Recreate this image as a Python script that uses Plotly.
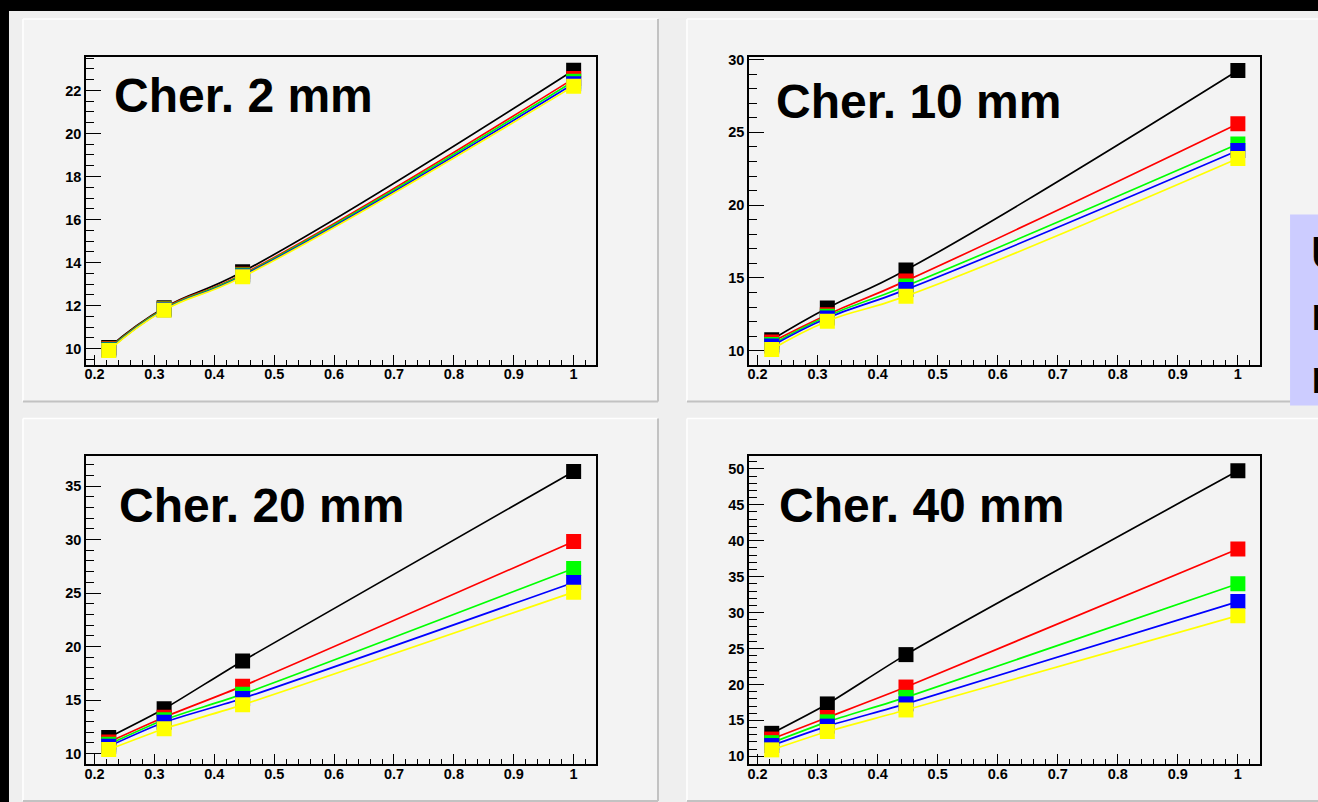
import plotly.graph_objects as go

W, H = 1318, 802

# x = 1/sqrt(E)
x_vals = [0.2236, 0.3162, 0.4472, 1.0]
series_names = ["black", "red", "green", "blue", "yellow"]
series_colors = ["#000000", "#ff0000", "#00ff00", "#0000ff", "#ffff00"]

panel_titles = ["Cher. 2 mm", "Cher. 10 mm", "Cher. 20 mm", "Cher. 40 mm"]

cher2_black = [10.05, 11.90, 13.57, 22.94]
cher2_red = [10.00, 11.87, 13.46, 22.55]
cher2_green = [9.97, 11.84, 13.42, 22.43]
cher2_blue = [9.94, 11.81, 13.38, 22.31]
cher2_yellow = [9.91, 11.78, 13.34, 22.20]

cher10_black = [10.75, 12.93, 15.55, 29.25]
cher10_red = [10.60, 12.48, 14.80, 25.60]
cher10_green = [10.43, 12.37, 14.45, 24.20]
cher10_blue = [10.32, 12.25, 14.20, 23.75]
cher10_yellow = [10.09, 12.03, 13.75, 23.20]

cher20_black = [11.50, 14.18, 18.66, 36.37]
cher20_red = [11.08, 13.40, 16.30, 29.83]
cher20_green = [10.86, 13.16, 15.55, 27.30]
cher20_blue = [10.68, 12.93, 15.15, 25.99]
cher20_yellow = [10.37, 12.32, 14.55, 25.09]

cher40_black = [13.20, 17.29, 24.15, 49.72]
cher40_red = [12.40, 15.40, 19.64, 38.84]
cher40_green = [11.90, 14.80, 18.20, 34.00]
cher40_blue = [11.50, 14.20, 17.30, 31.53]
cher40_yellow = [10.90, 13.45, 16.45, 29.57]

panel_data = [
    [cher2_black, cher2_red, cher2_green, cher2_blue, cher2_yellow],
    [cher10_black, cher10_red, cher10_green, cher10_blue, cher10_yellow],
    [cher20_black, cher20_red, cher20_green, cher20_blue, cher20_yellow],
    [cher40_black, cher40_red, cher40_green, cher40_blue, cher40_yellow],
]

y_ranges = [[9.25, 23.57], [9.04, 30.2], [9.0, 37.8], [8.9, 51.76]]
y_dticks = [2, 5, 5, 5]
y_minor = [0.5, 1, 1, 1]
x_range = [0.186, 1.037]

side_text = ["U", "n", "m"]


def px(x):
    return x / W


def py(y):
    return 1 - y / H


# frame pixel boxes (x0, x1, ytop, ybottom)
frames = [(84.3, 594.7, 52, 362), (748.3, 1260, 52, 362),
          (84.3, 594.7, 454, 764), (748.3, 1260, 454, 764)]
# panel boxes
panels = [(21, 657, 14, 399), (686, 1330, 14, 399),
          (21, 657, 416, 801), (686, 1330, 416, 801)]
title_pos = [(111.0, 91.5), (774.5, 97.5), (116.5, 503.8), (777.5, 503.7)]
smooth = [1.3, 1.3, 0.6, 0.6]

fig = go.Figure()

shapes = []
# slide background
shapes.append(dict(type="rect", xref="paper", yref="paper", x0=px(7), x1=px(1340),
                   y0=py(6), y1=py(820), fillcolor="#efefef", line=dict(width=0), layer="below"))
for (x0, x1, y0, y1) in panels:
    shapes.append(dict(type="rect", xref="paper", yref="paper", x0=px(x0), x1=px(x1),
                       y0=py(y0), y1=py(y1), fillcolor="#f3f3f3", line=dict(width=0), layer="below"))
    shapes.append(dict(type="line", xref="paper", yref="paper", x0=px(x0), x1=px(x1),
                       y0=py(y0), y1=py(y0), line=dict(color="#ffffff", width=1.5), layer="below"))
    shapes.append(dict(type="line", xref="paper", yref="paper", x0=px(x0), x1=px(x0),
                       y0=py(y0), y1=py(y1), line=dict(color="#ffffff", width=1.5), layer="below"))
    shapes.append(dict(type="line", xref="paper", yref="paper", x0=px(x0), x1=px(x1),
                       y0=py(y1), y1=py(y1), line=dict(color="#c2c2c2", width=2), layer="below"))
    shapes.append(dict(type="line", xref="paper", yref="paper", x0=px(x1), x1=px(x1),
                       y0=py(y0), y1=py(y1), line=dict(color="#c2c2c2", width=2), layer="below"))
# lavender box on right edge
shapes.append(dict(type="rect", xref="paper", yref="paper", x0=px(1290), x1=px(1360),
                   y0=py(210.7), y1=py(403), fillcolor="#ccccff", line=dict(width=0), layer="above"))

annotations = []
for i, (tx, ty) in enumerate(title_pos):
    annotations.append(dict(xref="paper", yref="paper", x=px(tx), y=py(ty), xanchor="left",
                            yanchor="middle", showarrow=False, text=panel_titles[i], borderpad=0,
                            font=dict(family="Liberation Sans", size=48, color="black", weight="bold")))
for t, ty in zip(side_text, [249, 310, 374]):
    annotations.append(dict(xref="paper", yref="paper", x=px(1310), y=py(ty), xanchor="left",
                            yanchor="middle", showarrow=False, text=t, borderpad=0,
                            font=dict(family="Liberation Sans", size=47, color="black", weight="bold")))

layout = dict(width=W, height=H, margin=dict(l=0, r=0, t=0, b=0, pad=0),
              paper_bgcolor="#000000", plot_bgcolor="#f3f3f3", showlegend=False,
              shapes=shapes, annotations=annotations)

for i in range(4):
    sfx = "" if i == 0 else str(i + 1)
    x0, x1, yt, yb = frames[i]
    for name, col, vals in zip(series_names, series_colors, panel_data[i]):
        fig.add_trace(go.Scatter(x=x_vals, y=vals, mode="lines+markers", name=name,
                                 line=dict(color=col, width=1.7, shape="spline", smoothing=smooth[i]),
                                 marker=dict(symbol="square", size=15, color=col, line=dict(width=0)),
                                 xaxis="x" + sfx, yaxis="y" + sfx))
    common = dict(showline=True, linecolor="black", linewidth=1.8, mirror=True,
                  ticks="inside", tickcolor="black", tickwidth=1.4, showgrid=False, zeroline=False,
                  tickfont=dict(family="Liberation Sans", size=14.5, color="black", weight="bold"), tick0=0)
    layout["xaxis" + sfx] = dict(common, domain=[px(x0), px(x1)], range=x_range, dtick=0.1,
                                 ticklen=10, anchor="y" + sfx, ticklabelstandoff=-5,
                                 minor=dict(dtick=0.02, ticklen=5, ticks="inside", tickcolor="black",
                                            tickwidth=1.2, showgrid=False))
    layout["yaxis" + sfx] = dict(common, domain=[py(yb), py(yt)], range=y_ranges[i], dtick=y_dticks[i],
                                 ticklen=15, anchor="x" + sfx,
                                 minor=dict(dtick=y_minor[i], ticklen=8, ticks="inside", tickcolor="black",
                                            tickwidth=1.2, showgrid=False))

fig.update_layout(**layout)
fig.write_html("out.html", config={"displayModeBar": False},
               post_script="document.body.style.margin='0';document.body.style.overflow='hidden';")
